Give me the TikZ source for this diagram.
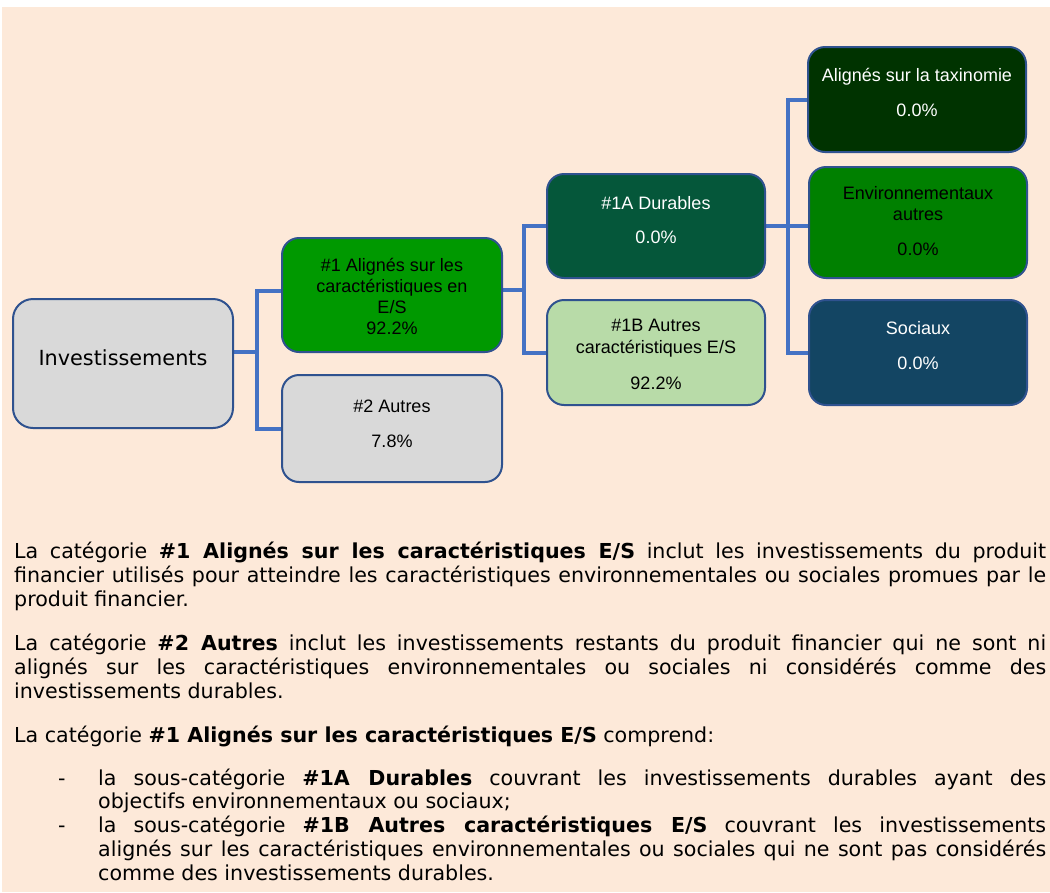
\documentclass[tikz,border=0pt]{standalone}
\usepackage{fontspec}
\setmainfont{DejaVu Sans}
\newfontfamily\boxfont{Liberation Sans}
\definecolor{bgpeach}{HTML}{FDE9D9}
\definecolor{bordercol}{HTML}{2F528F}
\definecolor{conncol}{HTML}{4472C4}
\definecolor{greyfill}{HTML}{D9D9D9}
\definecolor{gOne}{HTML}{009900}
\definecolor{gOneA}{HTML}{05573A}
\definecolor{gOneB}{HTML}{B8DBA8}
\definecolor{gTax}{HTML}{003300}
\definecolor{gEnv}{HTML}{008000}
\definecolor{gSoc}{HTML}{134563}
\pgfdeclarelayer{back}
\pgfdeclarelayer{mid}
\pgfsetlayers{back,mid,main}
\tikzset{
  boxnode/.style={draw=bordercol, line width=2pt, rounded corners=17pt, inner sep=0pt},
  conn/.style={draw=conncol, line width=4pt},
  boxtext/.style={font=\boxfont\fontsize{18pt}{20.8pt}\selectfont, inner sep=0pt, anchor=base},
}
\begin{document}
\begin{tikzpicture}[x=1pt,y=-1pt]
\useasboundingbox (0,0) rectangle (1050,892);
\begin{pgfonlayer}{back}
\fill[white] (0,0) rectangle (1050,892);
\fill[bgpeach] (2,7) rectangle (1050,892);
\end{pgfonlayer}

% boxes
\node[boxnode, rounded corners=20pt, fill=greyfill, minimum width=220pt, minimum height=129pt] (inv) at (123,363.5) {};
\node[boxnode, fill=gOne, minimum width=220pt, minimum height=114pt] (n1) at (392,295) {};
\node[boxnode, fill=greyfill, minimum width=220pt, minimum height=107pt] (n2) at (392,428.5) {};
\node[boxnode, fill=gOneA, minimum width=218pt, minimum height=104pt] (n1a) at (656,226) {};
\node[boxnode, fill=gOneB, minimum width=218pt, minimum height=105pt] (n1b) at (656,352.5) {};
\node[boxnode, fill=gTax, minimum width=218pt, minimum height=105pt] (tax) at (917,99.5) {};
\node[boxnode, fill=gEnv, minimum width=218pt, minimum height=111pt] (env) at (918,222.5) {};
\node[boxnode, fill=gSoc, minimum width=218pt, minimum height=105pt] (soc) at (918,352.5) {};

% connectors
\begin{pgfonlayer}{mid}
\coordinate (j1) at (257,352);
\draw[conn] (inv.east |- j1) -- (j1);
\draw[conn] ([yshift=4pt]n1.west) -| (j1) |- (n2.west);
\coordinate (j2) at (524,290);
\draw[conn] (n1.east |- j2) -- (j2);
\draw[conn] (n1a.west) -| (j2) |- (n1b.west);
\coordinate (j3) at (788,226);
\draw[conn] (n1a.east) -- (env.west |- n1a.east);
\draw[conn] (tax.west) -| (j3) |- (soc.west);
\end{pgfonlayer}

% box texts
\node[font=\fontsize{20.8pt}{24pt}\selectfont, inner sep=0pt, anchor=base] (tinv) at (123,365.6) {Investissements};

\node[boxtext] (t1a) at (392,271.5) {\#1 Alignés sur les};
\node[boxtext] (t1b) at (392,292.5) {caractéristiques en};
\node[boxtext] (t1c) at (392,313.5) {E/S};
\node[boxtext] (t1d) at (392,334.5) {92.2\%};

\node[boxtext] (t2a) at (392,412.5) {\#2 Autres};
\node[boxtext] (t2b) at (392,447.5) {7.8\%};

\node[boxtext, text=white] (t1Aa) at (656,209.5) {\#1A Durables};
\node[boxtext, text=white] (t1Ab) at (656,243.5) {0.0\%};

\node[boxtext] (t1Ba) at (656,331.5) {\#1B Autres};
\node[boxtext] (t1Bb) at (656,353.5) {caractéristiques E/S};
\node[boxtext] (t1Bc) at (656,389.5) {92.2\%};

\node[boxtext, text=white] (ttaxa) at (917,81.5) {Alignés sur la taxinomie};
\node[boxtext, text=white] (ttaxb) at (917,116.5) {0.0\%};

\node[boxtext] (tenva) at (918,199.5) {Environnementaux};
\node[boxtext] (tenvb) at (918,220.5) {autres};
\node[boxtext] (tenvc) at (918,255.5) {0.0\%};

\node[boxtext, text=white] (tsoca) at (918,334.5) {Sociaux};
\node[boxtext, text=white] (tsocb) at (918,369.5) {0.0\%};

% body text
\node[anchor=north west, inner sep=0pt, text width=1032pt, align=justify,
      font=\fontsize{20.6pt}{23.5pt}\selectfont] (body) at (14,541.5) {%
\hyphenpenalty=10000 \exhyphenpenalty=10000 \tolerance=10000 \emergencystretch=0pt \parindent=0pt
\strut La catégorie \textbf{\#1 Alignés sur les caractéristiques E/S} inclut les investissements du produit\linebreak
financier utilisés pour atteindre les caractéristiques environnementales ou sociales promues par le\linebreak
produit financier.\par
\vspace{20.5pt}
\strut La catégorie \textbf{\#2 Autres} inclut les investissements restants du produit financier qui ne sont ni\linebreak
alignés sur les caractéristiques environnementales ou sociales ni considérés comme des\linebreak
investissements durables.\par
\vspace{20.5pt}
\strut La catégorie \textbf{\#1 Alignés sur les caractéristiques E/S} comprend:\par
\vspace{18.5pt}
\hangindent=84pt \hangafter=0
\strut\llap{\makebox[40pt][l]{-}}la sous-catégorie \textbf{\#1A Durables} couvrant les investissements durables ayant des\linebreak
objectifs environnementaux ou sociaux;\par
\hangindent=84pt \hangafter=0
\strut\llap{\makebox[40pt][l]{-}}la sous-catégorie \textbf{\#1B Autres caractéristiques E/S} couvrant les investissements\linebreak
alignés sur les caractéristiques environnementales ou sociales qui ne sont pas considérés\linebreak
comme des investissements durables.\par
};
\end{tikzpicture}
\end{document}
